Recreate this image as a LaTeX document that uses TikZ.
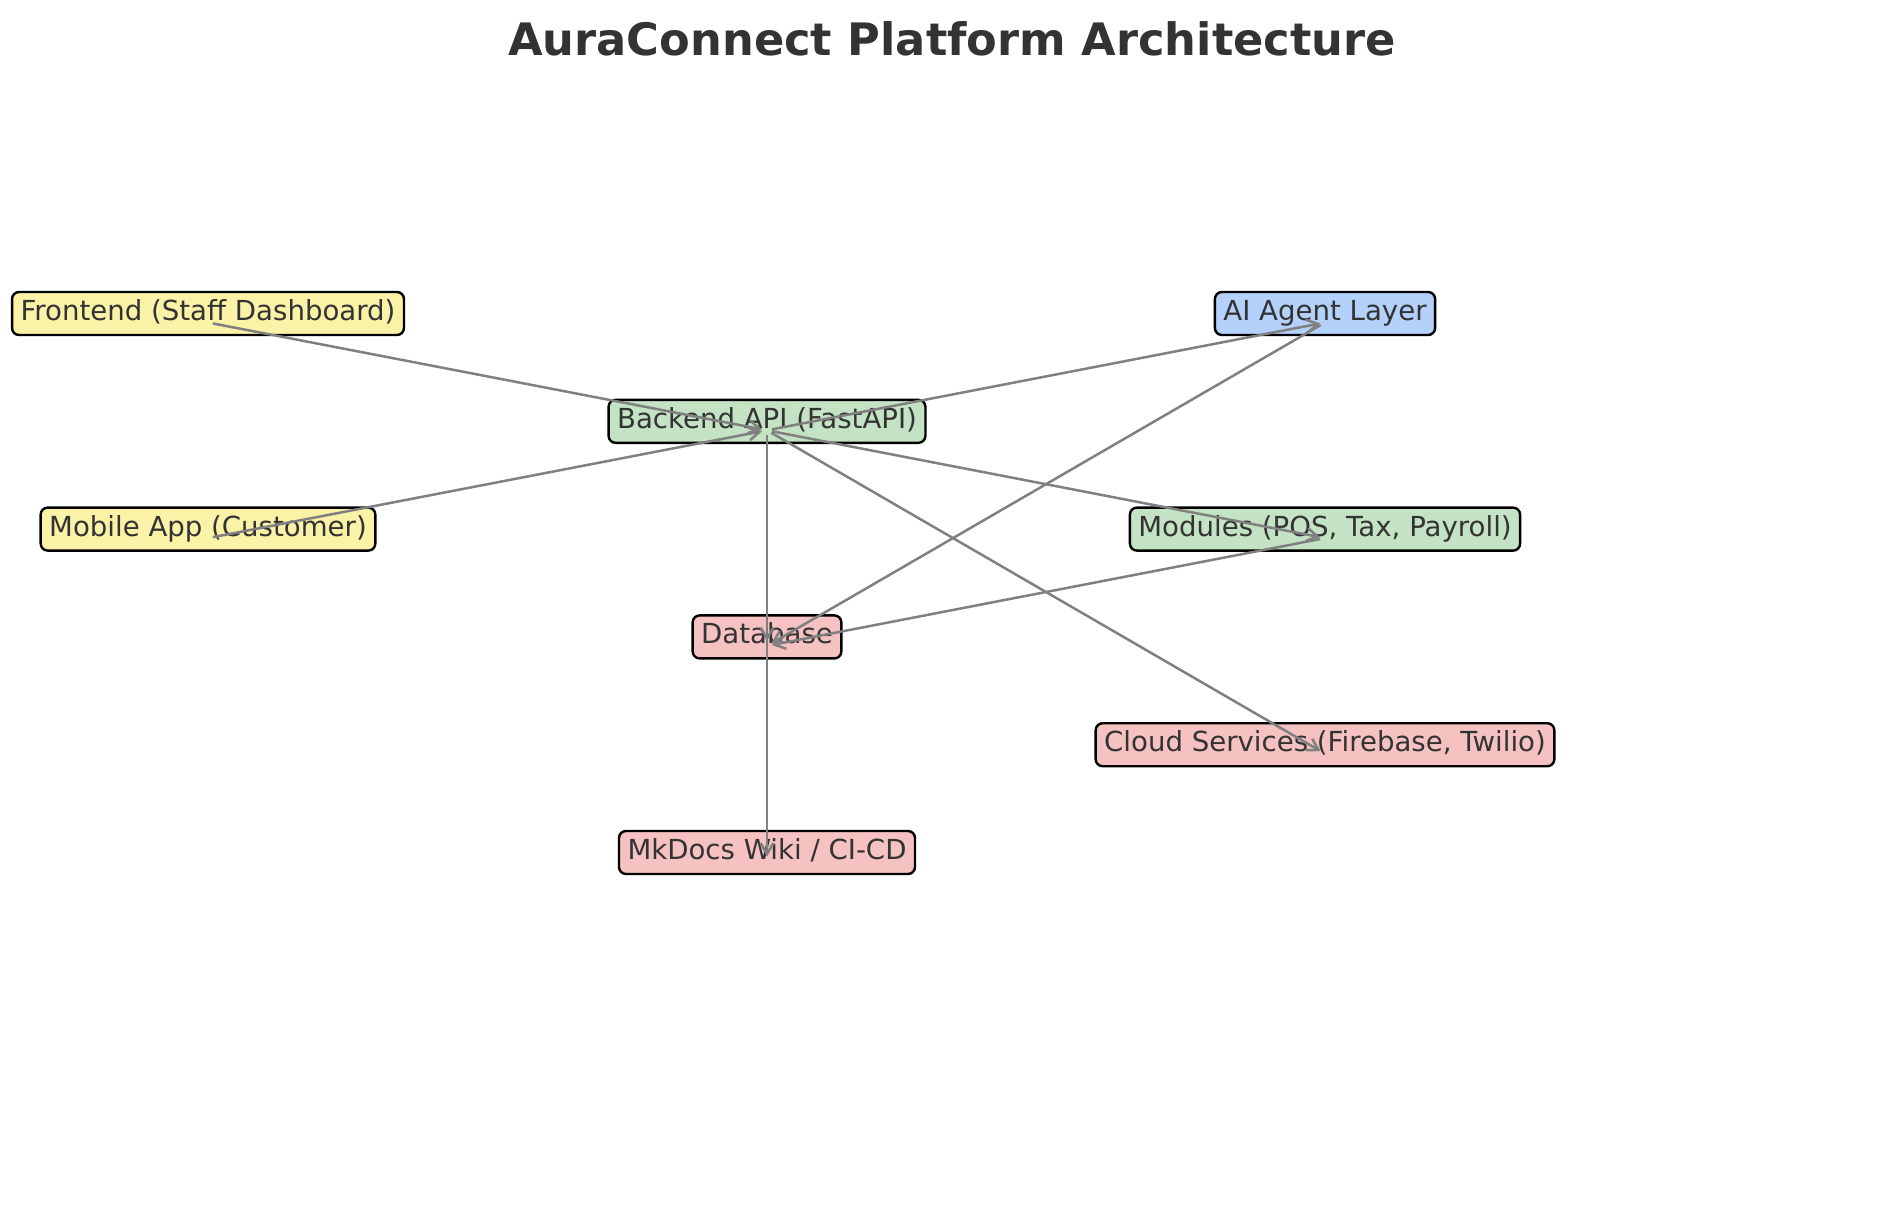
\documentclass[tikz,border=0pt]{standalone}
\usepackage{fontspec}
\setmainfont{DejaVu Sans}
\usetikzlibrary{arrows.meta}
\definecolor{txt}{HTML}{333333}
\definecolor{edgegray}{HTML}{808080}
\definecolor{fyellow}{HTML}{FAF2A6}
\definecolor{fgreen}{HTML}{C4E3C4}
\definecolor{fblue}{HTML}{B3D1FA}
\definecolor{fpink}{HTML}{F5C1C1}
\begin{document}
\begin{tikzpicture}[x=1pt,y=-1pt,
  box/.style={draw=black, line width=2.4pt, rounded corners=7pt,
    font=\fontsize{27.6}{32}\selectfont, text=txt, inner xsep=8.5pt, inner ysep=8.5pt,
    text height=20pt, text depth=6pt},
  conn/.style={draw=edgegray, line width=2.5pt,
    -{Straight Barb[length=11pt,width=13pt]}, shorten <=5pt, shorten >=5pt}]
\useasboundingbox (0,0) rectangle (1902,1205);
\node[font=\fontsize{44.7}{52}\selectfont\bfseries, text=txt] (title) at (952,39) {AuraConnect Platform Architecture};
\node[box, fill=fyellow] (fe) at (208,313.5) {Frontend (Staff Dashboard)};
\node[box, fill=fyellow] (mob) at (208,529.1) {Mobile App (Customer)};
\node[box, fill=fgreen] (be) at (767,421.3) {Backend API (FastAPI)};
\node[box, fill=fblue] (ai) at (1325,313.5) {AI Agent Layer};
\node[box, fill=fgreen] (mod) at (1325,529.1) {Modules (POS, Tax, Payroll)};
\node[box, fill=fpink] (db) at (767,636.9) {Database};
\node[box, fill=fpink] (cloud) at (1325,744.7) {Cloud Services (Firebase, Twilio)};
\node[box, fill=fpink] (mk) at (767,852.5) {MkDocs Wiki / CI-CD};
\draw[conn] ([yshift=-9pt]fe.center) -- ([yshift=-9pt]be.center);
\draw[conn] ([yshift=-9pt]mob.center) -- ([yshift=-9pt]be.center);
\draw[conn] ([yshift=-9pt]be.center) -- ([yshift=-9pt]ai.center);
\draw[conn] ([yshift=-9pt]be.center) -- ([yshift=-9pt]mod.center);
\draw[conn] ([yshift=-9pt]be.center) -- ([yshift=-9pt]db.center);
\draw[conn] ([yshift=-9pt]be.center) -- ([yshift=-9pt]cloud.center);
\draw[conn] ([yshift=-9pt]be.center) -- ([yshift=-9pt]mk.center);
\draw[conn] ([yshift=-9pt]ai.center) -- ([yshift=-9pt]db.center);
\draw[conn] ([yshift=-9pt]mod.center) -- ([yshift=-9pt]db.center);
\end{tikzpicture}
\end{document}
